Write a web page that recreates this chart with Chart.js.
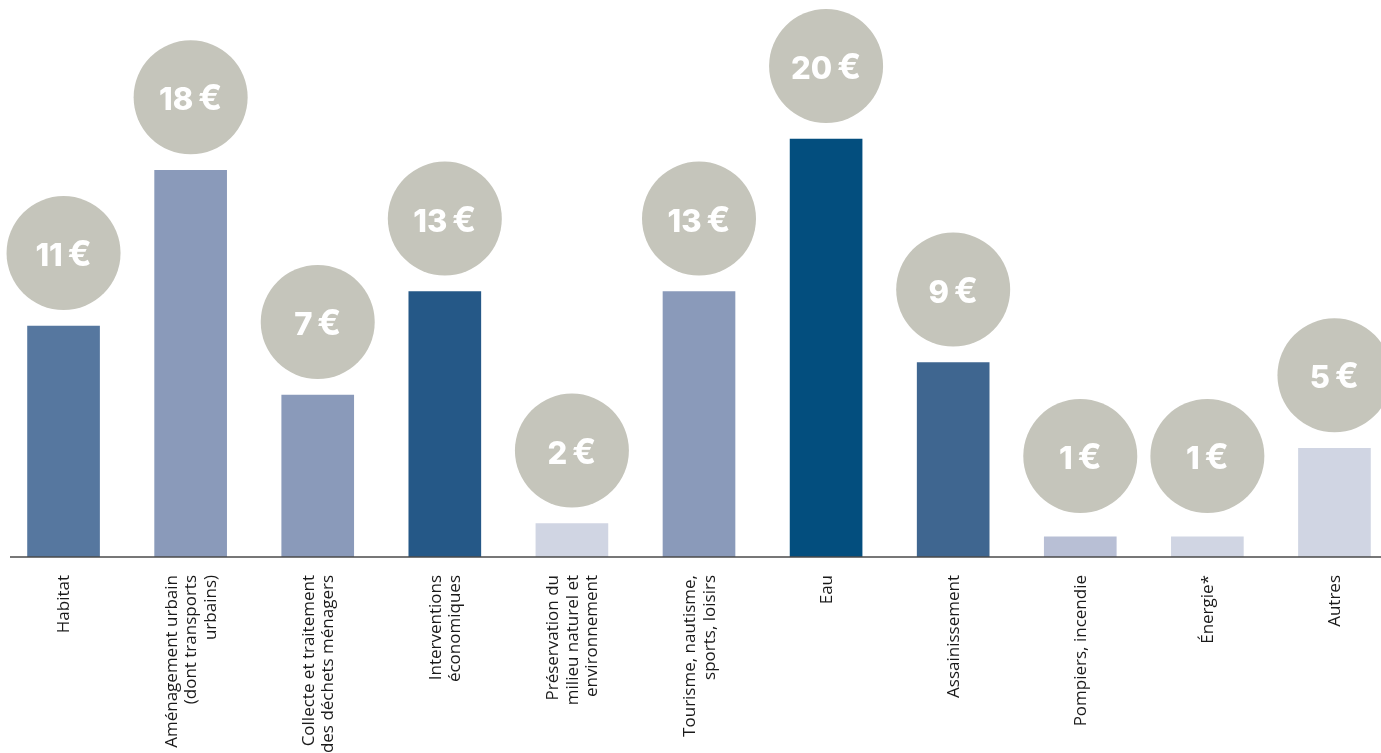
<!DOCTYPE html>
<html lang="fr">
<head>
<meta charset="utf-8">
<script src="https://cdn.jsdelivr.net/npm/chart.js@4.4.1/dist/chart.umd.min.js"></script>
<style>
  html, body { margin: 0; padding: 0; background: #fff; overflow: hidden; }
  #wrap { position: relative; width: 1398px; height: 753px; }
</style>
</head>
<body>
<div id="wrap"><canvas id="chart"></canvas></div>
<script>
// Catégories (libellés sur plusieurs lignes)
const CATEGORIES = [
    'Habitat',
    ['Aménagement urbain', '(dont transports', 'urbains)'],
    ['Collecte et traitement', 'des déchets ménagers'],
    ['Interventions', 'économiques'],
    ['Préservation du', 'milieu naturel et', 'environnement'],
    ['Tourisme, nautisme,', 'sports, loisirs'],
    'Eau',
    'Assainissement',
    'Pompiers, incendie',
    'Énergie*',
    'Autres'
];

// Hauteur des barres (en €)
const BAR_VALUES = [11.05, 18.5, 7.75, 12.7, 1.6, 12.7, 20, 9.3, 0.96, 0.96, 5.2];

// Montants affichés dans les pastilles
const SHOWN_VALUES = [11, 18, 7, 13, 2, 13, 20, 9, 1, 1, 5];

const BAR_COLORS = [
    '#56779f', '#8a9aba', '#8a9aba', '#255887', '#d0d5e3', '#8a9aba',
    '#034e7e', '#3f6690', '#b8bfd5', '#d0d5e3', '#d0d5e3'
];

const THEME = {
    font: "'Open Sans', sans-serif",
    bubbleFont: "Inter, sans-serif",
    bubble: '#c5c5bb',
    axis: '#4a4a4a',
    text: '#1a1a1a'
};

// Pastilles grises avec le montant au-dessus de chaque barre
const bubblePlugin = {
    id: 'bubbles',
    afterDatasetsDraw(chart) {
        const ctx = chart.ctx;
        const meta = chart.getDatasetMeta(0);
        const base = chart.chartArea.bottom;

        // ligne de base
        ctx.save();
        ctx.strokeStyle = THEME.axis;
        ctx.lineWidth = 1.5;
        ctx.beginPath();
        ctx.moveTo(10, base);
        ctx.lineTo(chart.width, base);
        ctx.stroke();

        meta.data.forEach((bar, i) => {
            const cy = Math.min(bar.y - 73, base - 101);
            ctx.fillStyle = THEME.bubble;
            ctx.beginPath();
            ctx.arc(bar.x, cy, 57, 0, Math.PI * 2);
            ctx.fill();

            // montant + symbole € un peu plus large
            const num = String(SHOWN_VALUES[i]);
            const numFont = `800 31px ${THEME.bubbleFont}`;
            const eurFont = `700 35px ${THEME.bubbleFont}`;
            ctx.font = numFont;
            const w1 = ctx.measureText(num).width;
            ctx.font = eurFont;
            const w2 = ctx.measureText('€').width;
            const gap = 5;
            const x0 = bar.x - (w1 + gap + w2) / 2;

            ctx.fillStyle = '#fff';
            ctx.textAlign = 'left';
            ctx.textBaseline = 'alphabetic';
            ctx.font = numFont;
            ctx.fillText(num, x0, cy + 13);
            ctx.font = eurFont;
            ctx.fillText('€', x0 + w1 + gap, cy + 13);
        });
        ctx.restore();
    }
};

// Libellés verticaux, centrés sur la graduation
const LINE_H = 19.5;
const labelPlugin = {
    id: 'verticalLabels',
    afterDraw(chart) {
        const ctx = chart.ctx;
        const scale = chart.scales.x;
        ctx.save();
        ctx.font = `17px ${THEME.font}`;
        ctx.fillStyle = THEME.text;
        ctx.textAlign = 'right';
        ctx.textBaseline = 'middle';
        CATEGORIES.forEach((label, i) => {
            const lines = [].concat(label);
            const x = scale.getPixelForTick(i);
            ctx.save();
            ctx.translate(x, scale.top + 18);
            ctx.rotate(-Math.PI / 2);
            lines.forEach((line, j) => {
                ctx.fillText(line, 0, (j - (lines.length - 1) / 2) * LINE_H + 1);
            });
            ctx.restore();
        });
        ctx.restore();
    }
};

new Chart(document.getElementById('chart'), {
    type: 'bar',
    data: {
        labels: CATEGORIES,
        datasets: [{
            data: BAR_VALUES,
            backgroundColor: BAR_COLORS,
            barThickness: 72
        }]
    },
    options: {
        responsive: true,
        maintainAspectRatio: false,
        animation: false,
        layout: { padding: 0 },
        plugins: {
            legend: { display: false },
            tooltip: { enabled: false }
        },
        scales: {
            x: {
                grid: { display: false, drawTicks: false },
                border: { display: false },
                ticks: { display: false },
                afterFit: (scale) => { scale.height = 196; }
            },
            y: {
                display: false,
                min: 0,
                max: 26.65
            }
        }
    },
    plugins: [bubblePlugin, labelPlugin]
});
</script>
</body>
</html>
